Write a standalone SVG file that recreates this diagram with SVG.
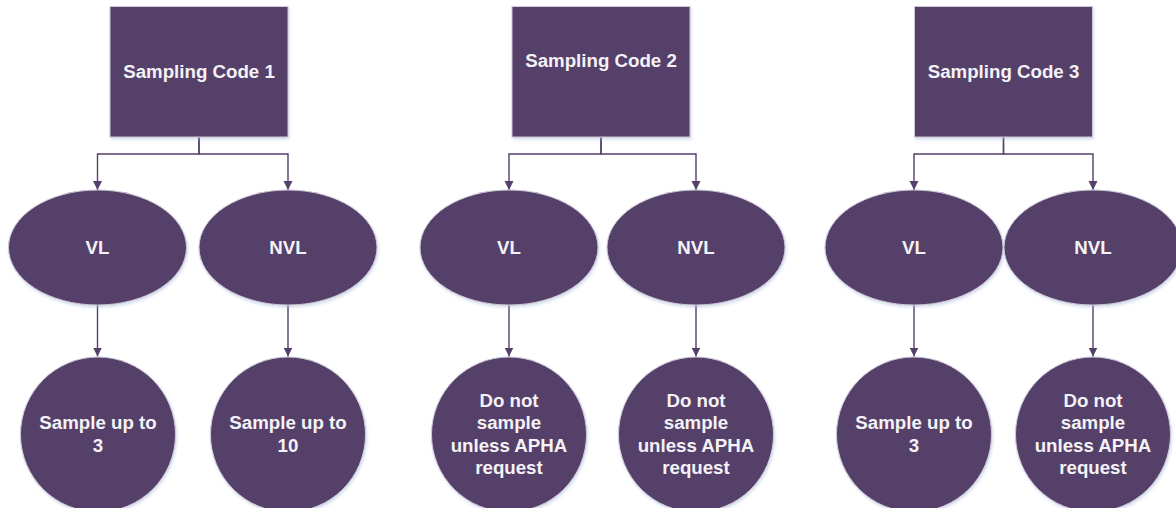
<svg xmlns="http://www.w3.org/2000/svg" width="1176" height="508" viewBox="0 0 1176 508">
<style>
.n{fill:#54406A;stroke:#CFC8D6;stroke-width:1;filter:url(#sh)}
.t{fill:#F4F2F6;font-family:"Liberation Sans",Arial,sans-serif;font-weight:bold;font-size:18.7px;text-anchor:middle}
.c{fill:none;stroke:#54406A;stroke-width:1.4;marker-end:url(#ah)}
</style>
<defs>
<filter id="sh" x="-10%" y="-10%" width="125%" height="125%">
<feDropShadow dx="1" dy="2" stdDeviation="1.5" flood-color="#9DB6D6" flood-opacity="0.45"/>
</filter>
<marker id="ah" viewBox="0 0 10 10" refX="10" refY="5" markerWidth="9" markerHeight="10" markerUnits="userSpaceOnUse" orient="auto">
<path d="M0,0 L10,5 L0,10 z" fill="#54406A"/>
</marker>
</defs>
<g id="connectors">
<path class="c" d="M199,137 V154 H97.5 V190"/>
<path class="c" d="M199,137 V154 H288 V190"/>
<path class="c" d="M97.5,305 V356.5"/>
<path class="c" d="M288,305 V356.5"/>
<path class="c" d="M601,137 V154 H509 V190"/>
<path class="c" d="M601,137 V154 H696 V190"/>
<path class="c" d="M509,305 V356.5"/>
<path class="c" d="M696,305 V356.5"/>
<path class="c" d="M1003.5,137 V154 H914 V190"/>
<path class="c" d="M1003.5,137 V154 H1093 V190"/>
<path class="c" d="M914,305 V356.5"/>
<path class="c" d="M1093,305 V356.5"/>
</g>
<g id="code1">
<rect class="n" x="110" y="6.5" width="178" height="130.5"/>
<text class="t" x="199" y="78">Sampling Code 1</text>
</g>
<g id="code2">
<rect class="n" x="512" y="6.5" width="178" height="130.5"/>
<text class="t" x="601" y="66.7">Sampling Code 2</text>
</g>
<g id="code3">
<rect class="n" x="914.5" y="6.5" width="178" height="130.5"/>
<text class="t" x="1003.5" y="78">Sampling Code 3</text>
</g>
<g id="vl1">
<ellipse class="n" cx="97.5" cy="247.5" rx="89" ry="57.5"/>
<text class="t" x="97.5" y="254">VL</text>
</g>
<g id="nvl1">
<ellipse class="n" cx="288" cy="247.5" rx="89" ry="57.5"/>
<text class="t" x="288" y="254">NVL</text>
</g>
<g id="vl2">
<ellipse class="n" cx="509" cy="247.5" rx="89" ry="57.5"/>
<text class="t" x="509" y="254">VL</text>
</g>
<g id="nvl2">
<ellipse class="n" cx="696" cy="247.5" rx="89" ry="57.5"/>
<text class="t" x="696" y="254">NVL</text>
</g>
<g id="vl3">
<ellipse class="n" cx="914" cy="247.5" rx="89" ry="57.5"/>
<text class="t" x="914" y="254">VL</text>
</g>
<g id="nvl3">
<ellipse class="n" cx="1093" cy="247.5" rx="89" ry="57.5"/>
<text class="t" x="1093" y="254">NVL</text>
</g>
<g id="res1">
<circle class="n" cx="98" cy="434.5" r="77.5"/>
<text class="t" x="98" y="429.3">Sample up to</text>
<text class="t" x="98" y="451.7">3</text>
</g>
<g id="res2">
<circle class="n" cx="288" cy="434.5" r="77.5"/>
<text class="t" x="288" y="429.3">Sample up to</text>
<text class="t" x="288" y="451.7">10</text>
</g>
<g id="res3">
<circle class="n" cx="509" cy="434.5" r="77.5"/>
<text class="t" x="509" y="406.7">Do not</text>
<text class="t" x="509" y="429.3">sample</text>
<text class="t" x="509" y="451.7">unless APHA</text>
<text class="t" x="509" y="474">request</text>
</g>
<g id="res4">
<circle class="n" cx="696" cy="434.5" r="77.5"/>
<text class="t" x="696" y="406.7">Do not</text>
<text class="t" x="696" y="429.3">sample</text>
<text class="t" x="696" y="451.7">unless APHA</text>
<text class="t" x="696" y="474">request</text>
</g>
<g id="res5">
<circle class="n" cx="914" cy="434.5" r="77.5"/>
<text class="t" x="914" y="429.3">Sample up to</text>
<text class="t" x="914" y="451.7">3</text>
</g>
<g id="res6">
<circle class="n" cx="1093" cy="434.5" r="77.5"/>
<text class="t" x="1093" y="406.7">Do not</text>
<text class="t" x="1093" y="429.3">sample</text>
<text class="t" x="1093" y="451.7">unless APHA</text>
<text class="t" x="1093" y="474">request</text>
</g>
</svg>
